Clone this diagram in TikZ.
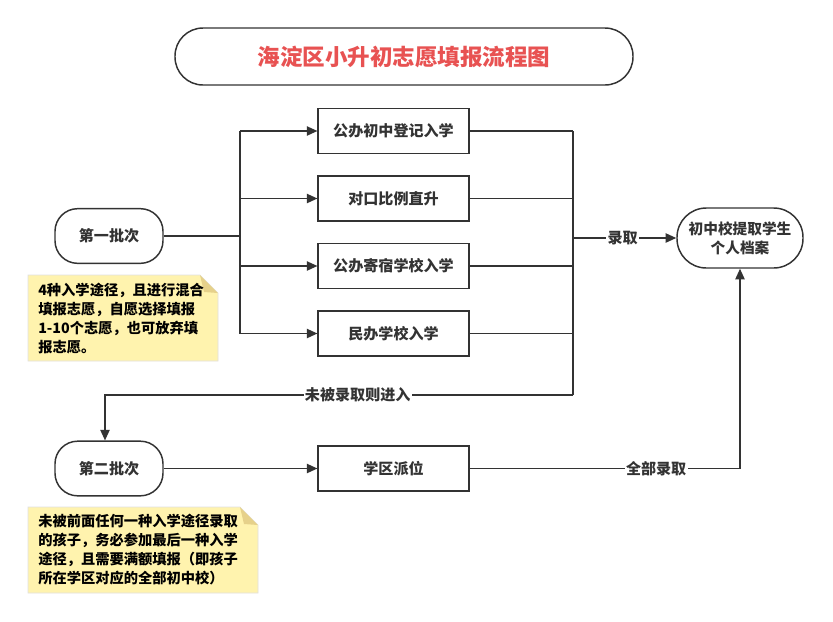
\documentclass[tikz,border=0pt]{standalone}
\usepackage{fontspec}
\setmainfont{Noto Sans CJK SC}
\usetikzlibrary{arrows.meta}
\definecolor{ln}{HTML}{333333}
\definecolor{ttl}{HTML}{E85252}
\definecolor{notefill}{HTML}{FFF3AE}
\definecolor{notefold}{HTML}{E6D18A}
\begin{document}
\begin{tikzpicture}[x=0.75pt,y=-0.75pt,
  every node/.style={font=\bfseries\fontsize{11.3}{13.5}\selectfont, text=ln},
  rectbox/.style={draw=ln, line width=1.1pt, fill=white, minimum width=113pt, minimum height=34pt, inner sep=0pt},
  term/.style={draw=ln, line width=1.1pt, fill=white, rounded corners=17pt, minimum width=81pt, minimum height=41pt, inner sep=0pt},
  conn/.style={draw=ln, line width=1.1pt},
  arr/.style={conn, -{Triangle[length=8pt,width=7pt]}},
  lbl/.style={fill=white, inner sep=1pt},
  notetext/.style={font=\bfseries\fontsize{10.7}{14.2}\selectfont, text=black, align=left, anchor=north west, inner sep=0pt}
]
\fill[white] (0,0) rectangle (833,622);
\useasboundingbox (0,0) rectangle (833,622);

% title
\node[draw=ln, line width=1.1pt, rounded corners=21pt, minimum width=343.5pt, minimum height=42.75pt, inner sep=0pt,
      font=\bfseries\fontsize{16.9}{19}\selectfont, text=ttl] (title) at (404,56.5) {海淀区小升初志愿填报流程图};

% first batch
\node[term] (first) at (109,236) {第一批次};
\node[rectbox] (b1) at (393.5,131) {公办初中登记入学};
\node[rectbox] (b2) at (393.5,198.5) {对口比例直升};
\node[rectbox] (b3) at (393.5,266) {公办寄宿学校入学};
\node[rectbox] (b4) at (393.5,333.5) {民办学校入学};
\node[term, rounded corners=22pt, minimum width=94.5pt, minimum height=45pt, align=center, font=\bfseries\fontsize{11}{14.5}\selectfont] (goal) at (740,238) {初中校提取学生\\个人档案};

% second batch
\node[term] (second) at (109,468.5) {第二批次};
\node[rectbox] (b5) at (393.5,468.5) {学区派位};

% left bus
\coordinate (lx) at (240,236);
\draw[conn] (first.east) -- (lx);
\draw[conn] (lx |- b1) -- (lx |- b4);
\draw[arr] (lx |- b1) -- (b1.west);
\draw[arr] (lx |- b2) -- (b2.west);
\draw[arr] (lx |- b3) -- (b3.west);
\draw[arr] (lx |- b4) -- (b4.west);

% right bus
\coordinate (rx) at (573,238);
\coordinate (rb) at (573,395);
\coordinate (lb) at (105,395);
\draw[conn] (b1.east) -- (rx |- b1);
\draw[conn] (b2.east) -- (rx |- b2);
\draw[conn] (b3.east) -- (rx |- b3);
\draw[conn] (b4.east) -- (rx |- b4);
\draw[conn] (rx |- b1) -- (rb);
\draw[arr] (rx) -- node[lbl, pos=0.48] (l1) {录取} (goal.west);
\draw[arr] (rb) -- node[lbl, pos=0.46] (l2) {未被录取则进入} (lb) -- (lb |- second.north);

% second row
\draw[arr] (second.east) -- (b5.west);
\coordinate (gx) at (740,468.5);
\draw[arr] (b5.east) -- node[lbl, pos=0.69] (l3) {全部录取} (gx) -- (goal.south);

% note 1
\fill[notefill, draw=black!12] (28,275) -- (200,275) -- (218,293) -- (218,361) -- (28,361) -- cycle;
\fill[notefold] (200,275) -- (218,293) -- (204,292) -- cycle;
\node[notetext] (n1) at (38,283) {4种入学途径，且进行混合\\填报志愿，自愿选择填报\\1-10个志愿，也可放弃填\\报志愿。};

% note 2
\fill[notefill, draw=black!12] (28,507) -- (240,507) -- (258,525) -- (258,593) -- (28,593) -- cycle;
\fill[notefold] (240,507) -- (258,525) -- (244,524) -- cycle;
\node[notetext] (n2) at (38,514) {未被前面任何一种入学途径录取\\的孩子，务必参加最后一种入学\\途径，且需要满额填报（即孩子\\所在学区对应的全部初中校）};
\end{tikzpicture}
\end{document}
